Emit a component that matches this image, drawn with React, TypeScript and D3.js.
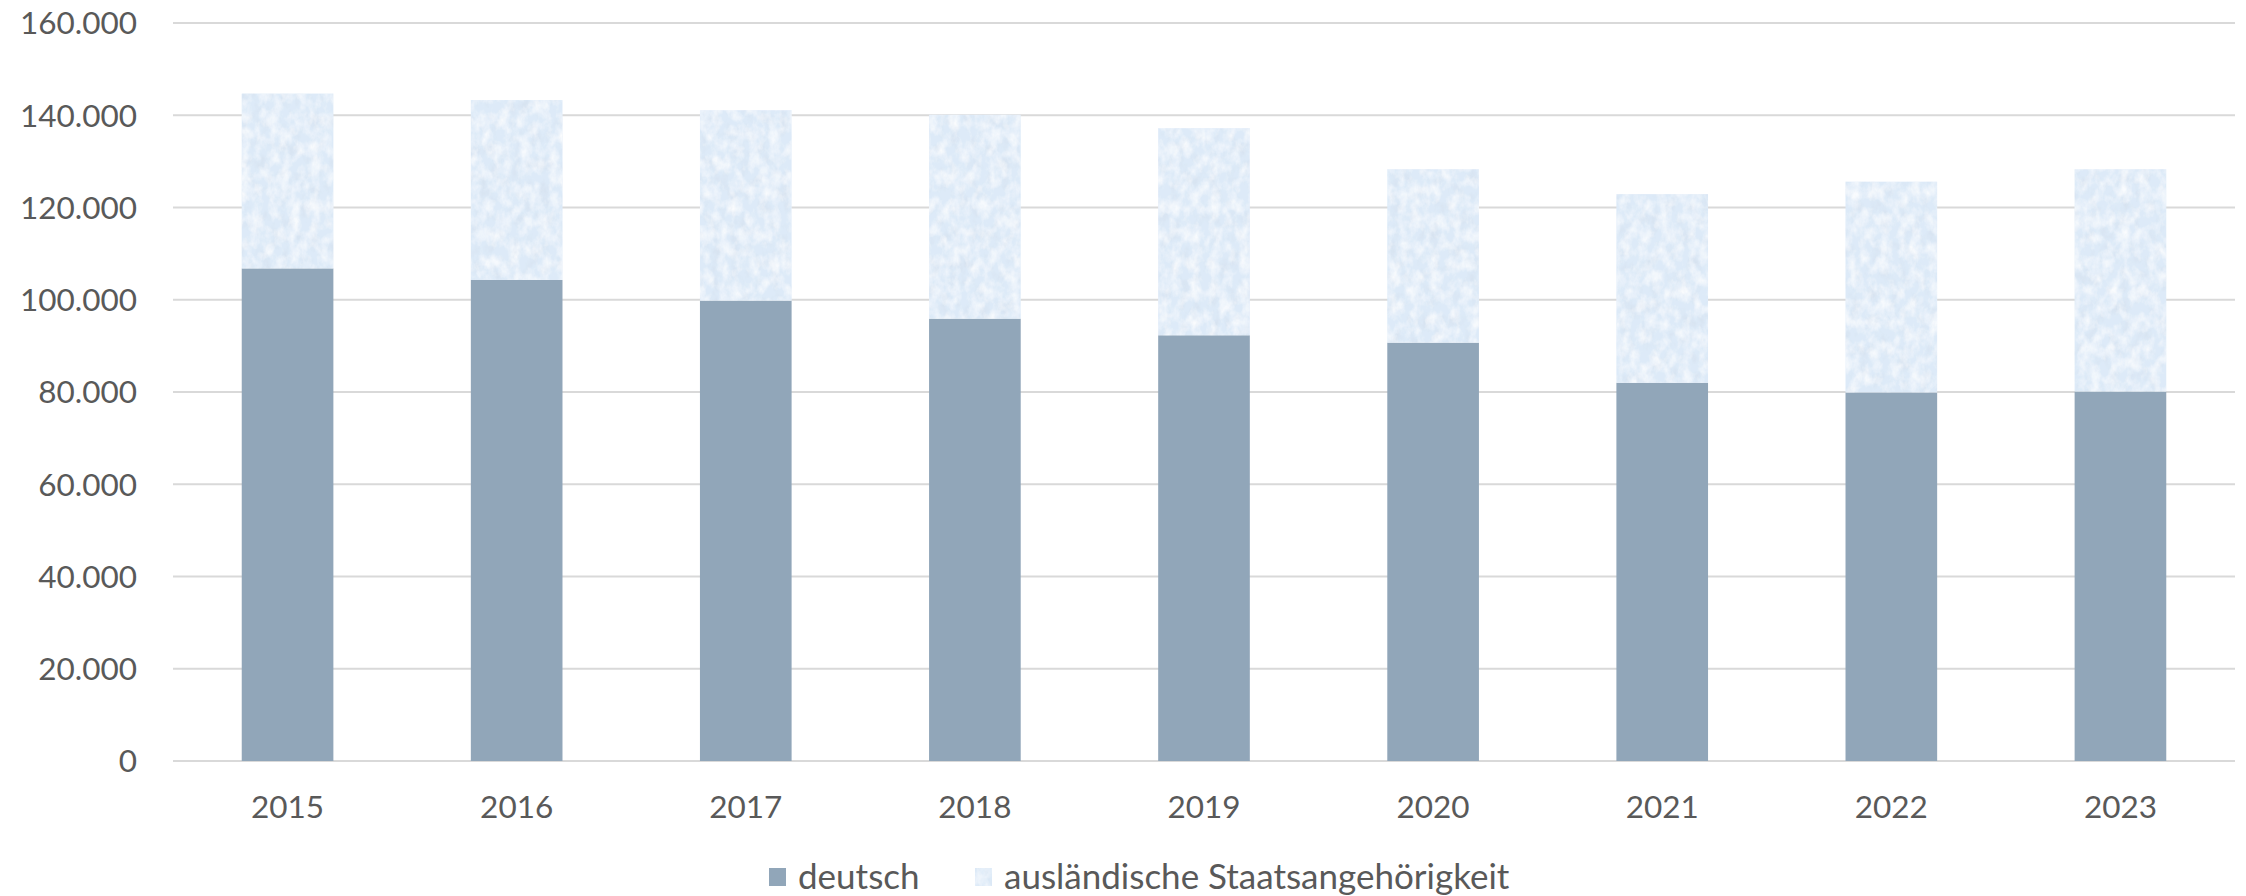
import * as d3 from "d3";
import { useEffect, useRef } from "react";

// Jahre und Werte (Personen)
const years = ["2015", "2016", "2017", "2018", "2019", "2020", "2021", "2022", "2023"];
const deutsch = [106800, 104300, 99800, 95900, 92300, 90700, 82000, 79900, 80100];
const gesamt = [144700, 143300, 141100, 140100, 137200, 128300, 122900, 125600, 128300];
const auslaendisch = gesamt.map((g, i) => g - deutsch[i]);
const yTicks = [0, 20000, 40000, 60000, 80000, 100000, 120000, 140000, 160000];
const seriesNames = ["deutsch", "ausländische Staatsangehörigkeit"];

const W = 2246;
const H = 896;
const FONT = "Lato, 'Open Sans', sans-serif";
const TEXT = "#595959";
const C_DE = "#91A6B9";
const C_AUS = "#DDEAF8";

const App = () => {
  const svgRef = useRef<SVGSVGElement | null>(null);

  useEffect(() => {
    const svg = d3.select(svgRef.current);
    svg.selectAll("*").remove();

    const x = d3
      .scaleBand()
      .domain(years)
      .range([173, 2235])
      .paddingInner(0.6)
      .paddingOuter(0.3);
    const y = d3.scaleLinear().domain([0, 160000]).range([761, 23]);

    // texture for the foreign bars (paper-like)
    const defs = svg.append("defs");
    const f = defs
      .append("filter")
      .attr("id", "tex")
      .attr("x", 0)
      .attr("y", 0)
      .attr("width", 1)
      .attr("height", 1);
    f.append("feTurbulence")
      .attr("type", "fractalNoise")
      .attr("baseFrequency", "0.1 0.07")
      .attr("numOctaves", 4)
      .attr("seed", 11)
      .attr("result", "n");
    f.append("feColorMatrix")
      .attr("in", "n")
      .attr("type", "matrix")
      .attr("values", "0 0 0 0 1  0 0 0 0 1  0 0 0 0 1  1.5 0 0 0 -0.55")
      .attr("result", "w");
    f.append("feComposite")
      .attr("in", "w")
      .attr("in2", "SourceGraphic")
      .attr("operator", "in")
      .attr("result", "wc");
    f.append("feColorMatrix")
      .attr("in", "n")
      .attr("type", "matrix")
      .attr("values", "0 0 0 0 0.62  0 0 0 0 0.68  0 0 0 0 0.78  0 1.0 0 0 -0.5")
      .attr("result", "g");
    f.append("feComposite")
      .attr("in", "g")
      .attr("in2", "SourceGraphic")
      .attr("operator", "in")
      .attr("result", "gc");
    const m = f.append("feMerge");
    m.append("feMergeNode").attr("in", "SourceGraphic");
    m.append("feMergeNode").attr("in", "gc");
    m.append("feMergeNode").attr("in", "wc");

    // gridlines
    svg
      .append("g")
      .selectAll("line")
      .data(yTicks)
      .join("line")
      .attr("x1", 173)
      .attr("x2", 2235)
      .attr("y1", (d) => y(d))
      .attr("y2", (d) => y(d))
      .attr("stroke", "#D9D9D9")
      .attr("stroke-width", 2);

    // y labels
    svg
      .append("g")
      .selectAll("text")
      .data(yTicks)
      .join("text")
      .attr("x", 137)
      .attr("y", (d) => y(d))
      .attr("dy", "0.36em")
      .attr("text-anchor", "end")
      .attr("font-family", FONT)
      .attr("font-size", 31.5)
      .attr("fill", TEXT)
      .text((d) => (d === 0 ? "0" : d3.format(",")(d).replace(/,/g, ".")));

    // stacked bars
    svg
      .append("g")
      .selectAll("rect")
      .data(years)
      .join("rect")
      .attr("x", (d) => x(d)!)
      .attr("width", x.bandwidth())
      .attr("y", (d, i) => y(deutsch[i]))
      .attr("height", (d, i) => y(0) - y(deutsch[i]))
      .attr("fill", C_DE);
    svg
      .append("g")
      .selectAll("rect")
      .data(years)
      .join("rect")
      .attr("x", (d) => x(d)!)
      .attr("width", x.bandwidth())
      .attr("y", (d, i) => y(deutsch[i] + auslaendisch[i]))
      .attr("height", (d, i) => y(deutsch[i]) - y(deutsch[i] + auslaendisch[i]))
      .attr("fill", C_AUS)
      .attr("filter", "url(#tex)");

    // x labels
    svg
      .append("g")
      .selectAll("text")
      .data(years)
      .join("text")
      .attr("x", (d) => x(d)! + x.bandwidth() / 2)
      .attr("y", 818)
      .attr("text-anchor", "middle")
      .attr("font-family", FONT)
      .attr("font-size", 31.5)
      .attr("fill", TEXT)
      .text((d) => d);

    // legend
    const leg = svg.append("g");
    const legX = [769, 975];
    leg
      .selectAll("rect")
      .data(seriesNames)
      .join("rect")
      .attr("x", (d, i) => legX[i])
      .attr("y", 868)
      .attr("width", 17)
      .attr("height", 18)
      .attr("fill", (d, i) => (i === 0 ? C_DE : C_AUS))
      .attr("filter", (d, i) => (i === 1 ? "url(#tex)" : null));
    leg
      .selectAll("text")
      .data(seriesNames)
      .join("text")
      .attr("x", (d, i) => legX[i] + 29)
      .attr("y", 889)
      .attr("font-family", FONT)
      .attr("font-size", 35)
      .attr("fill", TEXT)
      .text((d) => d);
  }, []);

  return (
    <svg
      ref={svgRef}
      width={W}
      height={H}
      style={{ position: "absolute", left: 0, top: 0, background: "#fff" }}
    />
  );
};

export default App;
